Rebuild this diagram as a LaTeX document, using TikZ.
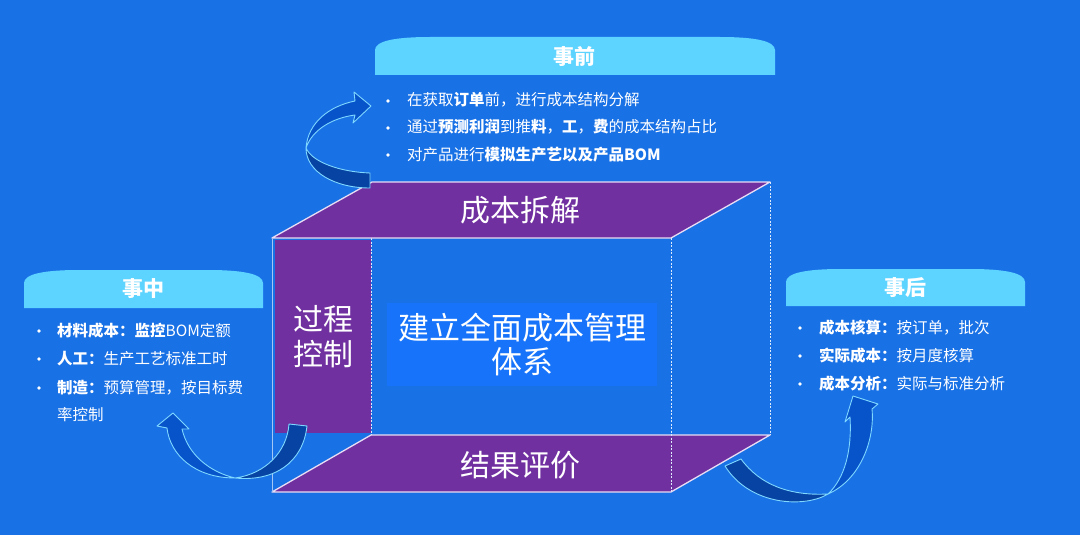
\documentclass[tikz,border=0pt]{standalone}
\usepackage{fontspec}
\setmainfont{Noto Sans CJK SC}
\newfontfamily\song{Noto Sans CJK SC}
\definecolor{bg}{HTML}{1971E6}
\definecolor{boxbg}{HTML}{1673FA}
\definecolor{purp}{HTML}{7030A0}
\definecolor{tabc}{HTML}{5DD3FF}
\definecolor{arrdark}{HTML}{0743A3}
\definecolor{arrmid}{HTML}{0653CA}
\definecolor{arrline}{HTML}{7ED8FF}
\definecolor{edgec}{HTML}{E8DDF4}
\tikzset{
  bl/.style={anchor=west, inner sep=0pt, text=white, font=\fontsize{15.5}{18}\selectfont},
  bdot/.style={circle, fill=white, inner sep=0pt, minimum size=3.6pt},
  tabtext/.style={inner sep=0pt, text=white, font=\fontsize{21}{24}\selectfont\bfseries},
  facetext/.style={inner sep=0pt, text=white, font=\song\fontsize{30}{35}\selectfont, align=center},
  tabshape/.style={fill=tabc},
  face/.style={fill=purp, draw=edgec, line width=1.3pt, line join=round},
  dashedge/.style={draw=white!85!bg, line width=0.7pt, dashed, dash pattern=on 2pt off 1.5pt},
  darkband/.style={fill=arrdark, draw=arrline, line width=0.9pt, line join=round},
  midband/.style={fill=arrmid, draw=arrline, line width=0.9pt, line join=round},
}
\begin{document}
\begin{tikzpicture}[x=1pt,y=-1pt]
\fill[bg] (0,0) rectangle (1080,535);
\useasboundingbox (0,0) rectangle (1080,535);

% ---- box ----
\draw[dashedge] (770,182) -- (770,435);
\draw[dashedge] (371,238) -- (371,435);
\fill[purp] (275,240) rectangle (371,433);
\draw[face] (372,182) -- (770,182) -- (671,238) -- (272,238) -- cycle;
\draw[face] (371,435) -- (770,435) -- (671,492) -- (272,492) -- cycle;
\draw[draw=white!60!bg, line width=1pt] (272,238) -- (272,492);
\draw[dashedge] (671,238) -- (671,492);
\fill[boxbg] (387,303) rectangle (657,386);

\node[facetext] (top) at (520,210) {成本拆解};
\node[facetext] (bot) at (520,465) {结果评价};
\node[facetext, font=\song\fontsize{30}{35}\selectfont] (proc) at (323,337) {过程\\控制};
\node[facetext, font=\song\fontsize{31}{34}\selectfont] (core) at (522,345) {建立全面成本管理\\体系};

% ---- arrow 1 (before) ----
\draw[midband] (306,148) .. controls (308,122) and (330,106) .. (355,101) -- (354,92) -- (371,106) -- (353,123) -- (355,115) .. controls (332,118) and (312,130) .. (306,148) -- cycle;
\draw[darkband] (306,148) .. controls (306,172) and (335,188) .. (370,188) -- (370,173) .. controls (340,172) and (312,162) .. (306,148) -- cycle;

% ---- arrow 2 (during) ----
\draw[midband] (235,478) .. controls (195,478) and (170,455) .. (167,428) -- (157,426) -- (173,413) -- (189,429) -- (182,429) .. controls (188,455) and (210,472) .. (235,478) -- cycle;
\draw[darkband] (235,478) .. controls (265,474) and (287,452) .. (289,424) -- (307,426) .. controls (303,462) and (275,482) .. (235,478) -- cycle;

% ---- arrow 3 (after) ----
\draw[midband] (828,494) .. controls (860,480) and (875,440) .. (872,409) -- (878,404) -- (853,396) -- (845,422) -- (850,417) .. controls (852,450) and (845,478) .. (828,494) -- cycle;
\draw[darkband] (725,466) -- (741,459) .. controls (760,485) and (790,496) .. (828,494) .. controls (805,508) and (750,506) .. (725,466) -- cycle;

% ---- tabs ----
\fill[tabshape] (375,75) -- (375,50) .. controls (375,41) and (395,37) .. (430,37) -- (720,37) .. controls (755,37) and (775,41) .. (775,50) -- (775,75) -- cycle;
\node[tabtext] (pre) at (574,57) {事前};
\fill[tabshape] (24,308) -- (24,283) .. controls (24,274) and (44,270) .. (79,270) -- (208,270) .. controls (243,270) and (263,274) .. (263,283) -- (263,308) -- cycle;
\node[tabtext] (mid) at (143,289) {事中};
\fill[tabshape] (786,306) -- (786,282) .. controls (786,273) and (806,269) .. (841,269) -- (970,269) .. controls (1005,269) and (1025,273) .. (1025,282) -- (1025,306) -- cycle;
\node[tabtext] (post) at (905,288) {事后};

% ---- lists ----
\node[bdot] (pd1) at (388,101) {};
\node[bdot] (pd2) at (388,128) {};
\node[bdot] (pd3) at (388,155) {};
\node[bl] (p1) at (407,100) {在获取\textbf{订单}前，进行成本结构分解};
\node[bl] (p2) at (407,127) {通过\textbf{预测利润}到推\textbf{料}，\textbf{工}，\textbf{费}的成本结构占比};
\node[bl] (p3) at (407,155) {对产品进行\textbf{模拟生产艺以及产品BOM}};

\node[bdot] (md1) at (39,331) {};
\node[bdot] (md2) at (39,359) {};
\node[bdot] (md3) at (39,388) {};
\node[bl] (m1) at (57,331) {\textbf{材料成本：监控}BOM定额};
\node[bl] (m2) at (57,359) {\textbf{人工：}生产工艺标准工时};
\node[bl] (m3) at (57,388) {\textbf{制造：}预算管理，按目标费};
\node[bl] (m4) at (57,415) {率控制};

\node[bdot] (ad1) at (800,328) {};
\node[bdot] (ad2) at (800,356) {};
\node[bdot] (ad3) at (800,384) {};
\node[bl] (a1) at (819,328) {\textbf{成本核算：}按订单，批次};
\node[bl] (a2) at (819,356) {\textbf{实际成本：}按月度核算};
\node[bl] (a3) at (819,384) {\textbf{成本分析：}实际与标准分析};
\end{tikzpicture}
\end{document}
